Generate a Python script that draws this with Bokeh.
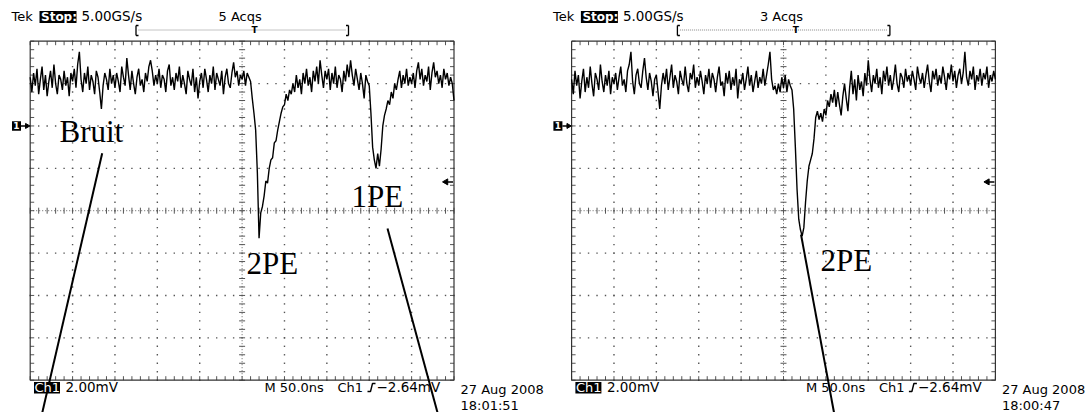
import numpy as np
from bokeh.plotting import figure
from bokeh.layouts import row
from bokeh.models import Label, Range1d
from bokeh.embed import file_html
from bokeh.resources import INLINE

# ---------------- data (read from the two scope screens) ----------------
T_START_NS = -250          # left edge of the screen
T_STEP_NS = 2              # sample spacing of the values below

# channel 1, mV relative to ground, first capture (5 Acqs)
left_trace_mv = [
    2.3, 1.6, 2.5, 1.9, 2.7, 1.5, 2.2, 2.8, 1.7, 2.4, 1.4, 2.1, 2.6, 1.8, 2.9, 2.0, 1.5, 2.4, 2.2, 1.7, 2.6, 1.9, 2.3, 1.4, 2.5,
    2.1, 2.7, 1.8, 2.9, 3.5, 2.2, 1.6, 2.5, 2.0, 2.8, 1.7, 2.4, 2.1, 1.5, 2.6, 2.3, 1.6, 0.8, 1.9, 2.5, 2.2, 1.7, 2.7, 2.0, 2.4,
    1.8, 2.5, 2.1, 1.6, 2.8, 2.3, 1.9, 3.2, 2.4, 1.7, 2.6, 2.0, 1.5, 2.3, 2.7, 1.9, 2.2, 1.6, 2.5, 2.1, 2.8, 3.1, 2.6, 1.9, 2.4,
    2.0, 2.7, 1.8, 2.4, 2.2, 1.6, 2.6, 2.9, 1.9, 2.3, 1.7, 2.5, 2.1, 2.8, 1.8, 2.4, 2.0, 1.5, 2.6, 2.2, 1.9, 2.7, 1.6, 2.3, 1.3,
    2.1, 2.5, 1.8, 2.7, 2.2, 1.6, 2.4, 2.0, 2.8, 1.7, 2.5, 2.2, 1.9, 2.6, 1.5, 2.3, 2.7, 2.0, 1.8, 2.5, 3.0, 2.3, 2.6, 1.9, 2.4,
    2.2, 2.6, 1.9, 2.5, 2.3, 2.1, 1.3, 0.6, -0.2, -2.2, -5.3, -4.1, -3.8, -3.3, -2.6, -2.7, -2.0, -1.6, -1.5, -0.8, -0.7, -0.2, 0.2, 0.6, 0.9,
    1.0, 1.5, 1.2, 1.7, 1.5, 2.0, 1.6, 2.4, 1.8, 2.2, 1.5, 2.5, 2.0, 2.7, 1.9, 2.3, 1.6, 2.6, 2.1, 2.8, 2.0, 3.1, 2.4, 1.8, 2.6,
    2.2, 2.7, 1.7, 2.5, 2.0, 2.8, 1.8, 2.4, 2.2, 1.6, 2.6, 2.1, 2.9, 2.3, 3.1, 2.4, 1.9, 2.7, 2.2, 1.7, 2.5, 2.0, 1.3, 2.4, 2.1,
    1.9, 0.6, -1.0, -1.6, -2.0, -1.3, -1.9, -1.1, 0.0, 0.5, 0.8, 1.2, 1.0, 1.6, 1.3, 2.0, 1.7, 2.2, 2.6, 1.8, 2.4, 2.0, 2.7, 1.9, 2.3,
    2.0, 2.5, 1.8, 2.6, 3.0, 2.2, 2.7, 1.9, 2.4, 2.1, 2.8, 1.7, 2.5, 3.0, 2.3, 2.6, 2.0, 2.4, 1.8, 2.7, 2.2, 2.5, 1.9, 2.3, 2.0,
    1.2,
]

# channel 1, mV relative to ground, second capture (3 Acqs)
right_trace_mv = [
    2.2, 1.5, 2.6, 1.9, 2.4, 1.3, 2.1, 2.7, 1.6, 2.3, 1.8, 2.8, 2.0, 1.4, 2.5, 2.2, 1.7, 2.9, 2.1, 1.6, 2.4, 1.9, 2.6, 1.5, 2.3,
    2.0, 2.5, 1.7, 2.3, 2.8, 1.9, 2.2, 1.6, 2.6, 2.9, 3.5, 2.1, 1.5, 2.4, 2.7, 2.0, 1.8, 2.6, 3.2, 2.3, 1.7, 2.5, 2.1, 1.4, 2.2,
    2.4, 1.6, 0.8, 1.9, 2.5, 2.0, 2.7, 1.7, 2.3, 2.9, 1.8, 2.4, 2.1, 1.5, 2.6, 2.2, 1.9, 2.8, 2.0, 1.6, 2.5, 2.2, 2.9, 1.8, 2.3,
    1.9, 2.6, 2.1, 1.5, 2.4, 2.0, 2.7, 1.8, 2.5, 2.2, 1.6, 2.3, 2.8, 1.9, 2.1, 1.4, 2.5, 2.0, 2.6, 1.7, 2.3, 1.9, 2.7, 1.3, 2.2,
    2.0, 2.5, 1.7, 2.2, 2.8, 1.9, 2.4, 1.6, 2.1, 2.6, 1.8, 2.3, 2.0, 2.7, 1.9, 2.4, 2.9, 3.5, 2.2, 1.7, 1.9, 1.5, 2.0, 1.6, 2.3,
    1.8, 2.4, 1.6, 2.2, 1.9, 1.7, 0.8, -1.0, -3.0, -4.4, -4.9, -5.2, -4.8, -3.6, -2.6, -1.9, -1.6, -1.3, -0.6, 0.4, 0.7, 0.3, 0.6, 0.2, 0.8,
    0.5, 1.2, 0.9, 1.5, 1.1, 1.7, 0.9, 1.6, 1.0, 0.5, 1.4, 2.0, 1.3, 0.7, 1.8, 2.6, 1.5, 2.2, 1.2, 2.4, 1.7, 2.1, 1.4, 2.5, 1.9,
    3.1, 2.2, 1.6, 2.4, 2.0, 2.7, 1.8, 2.3, 1.5, 2.6, 2.1, 2.8, 1.9, 2.4, 1.7, 2.2, 2.9, 2.0, 1.6, 2.5, 2.3, 1.8, 2.7, 2.1, 2.4,
    1.9, 2.6, 2.2, 1.7, 2.8, 2.3, 2.0, 2.5, 1.8, 2.4, 2.9, 2.1, 1.6, 2.6, 2.2, 2.7, 1.9, 2.4, 2.0, 2.8, 2.3, 1.7, 2.5, 2.2, 2.9,
    2.1, 2.6, 1.8, 2.4, 2.7, 2.0, 2.5, 3.5, 2.3, 1.9, 2.6, 2.2, 2.8, 1.7, 2.4, 2.1, 2.7, 1.9, 2.5, 2.2, 2.8, 1.8, 2.4, 2.1, 2.6,
    2.2,
]

left_notes = ["Bruit", "2PE", "1PE"]
right_notes = ["2PE"]
left_acqs = "5 Acqs"
right_acqs = "3 Acqs"
left_stamp = ["27 Aug 2008", "18:01:51"]
right_stamp = ["27 Aug 2008", "18:00:47"]
sample_rate = "5.00GS/s"
volts_per_div = "2.00mV"
timebase = "M 50.0ns"
trig_source = "Ch1"
trig_text = "\u22122.64mV"
trig_level_mv = -2.64
ground_mv = 0.0

NS_PER_DIV = 50
MV_PER_DIV = 2
X_DIVS, Y_DIVS = 10, 8
Y_TOP_MV = 4.0                       # ground sits 2 div above centre
Y_BOT_MV = Y_TOP_MV - Y_DIVS * MV_PER_DIV
X_L_NS = -X_DIVS / 2 * NS_PER_DIV
X_R_NS = X_DIVS / 2 * NS_PER_DIV

# ---------------- layout geometry (pixels of one scope screen) ----------------
GX0, GY0 = 29.7, 40.7                # graticule top-left
KX = 423.8 / (X_R_NS - X_L_NS)       # px per ns
KY = 339.0 / (Y_TOP_MV - Y_BOT_MV)   # px per mV
H = 412
PANEL_SHIFT = 541.4                  # second screen sits this far to the right
BASELINE_FIX = 0.39                  # renderer drops alphabetic text by ~0.39 em


def X(px):
    return X_L_NS + (px - GX0) / KX


def Y(py):
    return Y_TOP_MV - (py - GY0) / KY


MONO = "DejaVu Sans"
SERIF = "Liberation Serif"


def label(p, x, y, text, size=13, font=MONO, color="black", align="left", style="normal"):
    p.add_layout(Label(x=X(x), y=Y(y - BASELINE_FIX * size), text=text, text_font=font,
                       text_font_size=f"{size}px", text_color=color, text_align=align,
                       text_baseline="alphabetic", text_font_style=style))


def scope(trace, acqs, stamp, notes, note_pos, pointers, fig_left, width):
    p = figure(width=width, height=H, output_backend="svg", toolbar_location=None,
               x_range=Range1d(X(fig_left), X(fig_left + width)),
               y_range=Range1d(Y(H), Y(0)),
               x_axis_location=None, y_axis_location=None, min_border=0)
    p.grid.visible = False
    p.outline_line_color = None
    p.background_fill_color = "white"
    p.border_fill_color = "white"

    # graticule: dotted division lines
    step_x = NS_PER_DIV / 5
    step_y = MV_PER_DIV / 5
    xs_fine = np.arange(X_L_NS, X_R_NS + 0.01, step_x)
    ys_fine = np.arange(Y_BOT_MV, Y_TOP_MV + 0.001, step_y)
    cx = 0.0
    cy = (Y_TOP_MV + Y_BOT_MV) / 2
    dx, dy = [], []
    for k in range(1, Y_DIVS):
        yv = Y_BOT_MV + k * MV_PER_DIV
        if abs(yv - cy) < 1e-6:
            continue
        dx += list(xs_fine)
        dy += [yv] * len(xs_fine)
    for k in range(1, X_DIVS):
        xv = X_L_NS + k * NS_PER_DIV
        if abs(xv - cx) < 1e-6:
            continue
        dx += [xv] * len(ys_fine)
        dy += list(ys_fine)
    p.scatter(dx, dy, marker="square", size=1.4, fill_color="#555555", line_color=None)

    # centre cross with ticks
    p.line([X_L_NS, X_R_NS], [cy, cy], line_color="#666666", line_width=1, line_dash="1 2")
    p.line([cx, cx], [Y_BOT_MV, Y_TOP_MV], line_color="#666666", line_width=1, line_dash="1 2")
    th = 3 / KY
    tw = 3 / KX
    p.segment(x0=xs_fine, y0=cy - th, x1=xs_fine, y1=cy + th, line_color="#555555", line_width=1)
    p.segment(x0=cx - tw, y0=ys_fine, x1=cx + tw, y1=ys_fine, line_color="#555555", line_width=1)

    # border with inward ticks
    bh = 4 / KY
    bw = 4 / KX
    p.segment(x0=xs_fine, y0=Y_TOP_MV, x1=xs_fine, y1=Y_TOP_MV - bh, line_color="#555555", line_width=1)
    p.segment(x0=xs_fine, y0=Y_BOT_MV, x1=xs_fine, y1=Y_BOT_MV + bh, line_color="#555555", line_width=1)
    p.segment(x0=X_L_NS, y0=ys_fine, x1=X_L_NS + bw, y1=ys_fine, line_color="#555555", line_width=1)
    p.segment(x0=X_R_NS, y0=ys_fine, x1=X_R_NS - bw, y1=ys_fine, line_color="#555555", line_width=1)
    p.line([X_L_NS, X_R_NS, X_R_NS, X_L_NS, X_L_NS],
           [Y_TOP_MV, Y_TOP_MV, Y_BOT_MV, Y_BOT_MV, Y_TOP_MV], line_color="#333333", line_width=1.2)

    # waveform
    t = T_START_NS + T_STEP_NS * np.arange(len(trace))
    p.line(t, trace, line_color="black", line_width=1.4)

    # ground marker "1->"
    gh = 4.7 / KY
    p.quad(left=X(11.5), right=X(20.5), bottom=ground_mv - gh, top=ground_mv + gh,
           fill_color="black", line_color=None)
    p.add_layout(Label(x=X(16), y=ground_mv, text="1", text_font=MONO, text_font_size="9px",
                       text_font_style="bold", text_color="white", text_align="center",
                       text_baseline="middle"))
    p.segment(x0=X(20.5), y0=ground_mv, x1=X(26), y1=ground_mv, line_color="black", line_width=1.5)
    p.scatter([X(26.5)], [ground_mv], marker="triangle", angle=-np.pi / 2, size=5,
              fill_color="black", line_color="black")

    # trigger level arrow
    p.segment(x0=X(446), y0=trig_level_mv, x1=X(452.5), y1=trig_level_mv, line_color="black", line_width=1.5)
    p.scatter([X(445.5)], [trig_level_mv], marker="triangle", angle=np.pi / 2, size=6,
              fill_color="black", line_color="black")

    # header
    label(p, 11, 21, "Tek")
    p.quad(left=X(39), right=X(76), top=Y(10.5), bottom=Y(22.5), fill_color="black", line_color=None)
    label(p, 40.5, 21, "Stop:", color="white", style="bold", size=12)
    label(p, 81, 21, sample_rate, size=13.5)
    label(p, 218, 21, acqs)
    # record bracket
    p.segment(x0=[X(135.5), X(348)], y0=[Y(25), Y(25)], x1=[X(135.5), X(348)], y1=[Y(35), Y(35)],
              line_color="black", line_width=1.3)
    p.segment(x0=[X(135.5), X(135.5), X(345.5), X(345.5)], y0=[Y(25), Y(35), Y(25), Y(35)],
              x1=[X(138), X(138), X(348), X(348)], y1=[Y(25), Y(35), Y(25), Y(35)],
              line_color="black", line_width=1.3)
    p.line([X(138), X(345)], [Y(29.5), Y(29.5)], line_color="#888888", line_width=1, line_dash="1 1")
    label(p, 254, 33.5, "T", size=9, align="center", style="bold")

    # footer
    p.quad(left=X(33.5), right=X(59.5), top=Y(381.5), bottom=Y(393), fill_color="black", line_color=None)
    label(p, 34, 392, "Ch1", color="white")
    label(p, 65, 392, volts_per_div, size=13.5)
    label(p, 264, 392, timebase)
    label(p, 337, 392, trig_source)
    p.line([X(367), X(370), X(372), X(375)], [Y(391), Y(391), Y(383), Y(383)],
           line_color="black", line_width=1.4)
    label(p, 376, 392, trig_text, size=13.5)
    label(p, 460, 394, stamp[0])
    label(p, 460, 410.5, stamp[1])

    # hand-drawn annotations
    for txt, (nx, ny) in zip(notes, note_pos):
        label(p, nx, ny, txt, size=31, font=SERIF)
    for (x0, y0), (x1, y1) in pointers:
        p.line([X(x0), X(x1)], [Y(y0), Y(y1)], line_color="black", line_width=2)
    return p


p1 = scope(left_trace_mv, left_acqs, left_stamp, left_notes,
           [(59, 143.5), (246, 275), (351, 208.3)],
           [((101.7, 152.7), (41.8, 412)), ((387, 228), (437, 412))],
           fig_left=0, width=545)
p2 = scope(right_trace_mv, right_acqs, right_stamp, right_notes,
           [(278.6, 272.5)],
           [((259.1, 234), (292.1, 412))],
           fig_left=545 - PANEL_SHIFT, width=545)

layout = row(p1, p2)
open("out.html", "w").write(file_html(layout, INLINE))
